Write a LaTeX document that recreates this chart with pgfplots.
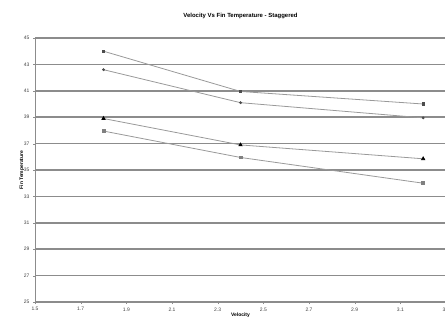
\documentclass[border=0pt]{standalone}
\usepackage{fontspec}
\setmainfont{Liberation Sans}
\usepackage{pgfplots}
\pgfplotsset{compat=1.18}
\begin{document}
\begin{tikzpicture}[x=1bp,y=1bp]
\clip (0,0) rectangle (445,331);
\path[use as bounding box] (0,0) rectangle (445,331);
\begin{axis}[
  at={(35bp,29bp)}, anchor=south west,
  scale only axis, width=411bp, height=264bp,
  xmin=1.5, xmax=3.3, ymin=25, ymax=45,
  xtick={1.5,1.7,...,3.3}, ytick={25,27,...,45},
  xticklabels={1.5,1.7,1.9,2.1,2.3,2.5,2.7,2.9,3.1,3.3},
  yticklabels={25,27,29,31,33,35,37,39,41,43,45},
  tick label style={font=\fontsize{5}{6}\selectfont, text=black!75},
  ymajorgrids, grid style={black!45, line width=1.6bp},
  axis line style={black!45, line width=0.9bp},
  tick style={black!45}, tick align=outside, major tick length=2bp,
  xtick pos=bottom, ytick pos=left,
  xlabel={\textbf{Velocity}}, ylabel={\textbf{Fin Temperature}},
  xlabel style={font=\fontsize{5}{6}\selectfont, yshift=5bp},
  ylabel style={font=\fontsize{5}{6}\selectfont, yshift=-7bp},
  title={\textbf{Velocity Vs Fin Temperature - Staggered}},
  title style={font=\fontsize{6}{7}\selectfont, at={(0.5,1)}, yshift=10bp},
  clip=false,
]
\addplot[black!40, line width=0.8bp, mark=square*, mark size=1.2bp, mark options={fill=black!70, draw=black!70}]
  coordinates {(1.8,44.0) (2.4,40.95) (3.2,40.0)};
\addplot[black!40, line width=0.8bp, mark=*, mark size=1.0bp, mark options={fill=black!70, draw=black!70}]
  coordinates {(1.8,42.6) (2.4,40.1) (3.2,38.95)};
\addplot[black!40, line width=0.8bp, mark=triangle*, mark size=1.8bp, mark options={fill=black, draw=black}]
  coordinates {(1.8,38.9) (2.4,36.9) (3.2,35.85)};
\addplot[black!40, line width=0.8bp, mark=square*, mark size=1.4bp, mark options={fill=black!50, draw=black!50}]
  coordinates {(1.8,37.95) (2.4,35.95) (3.2,34.0)};
\end{axis}
\end{tikzpicture}
\end{document}
